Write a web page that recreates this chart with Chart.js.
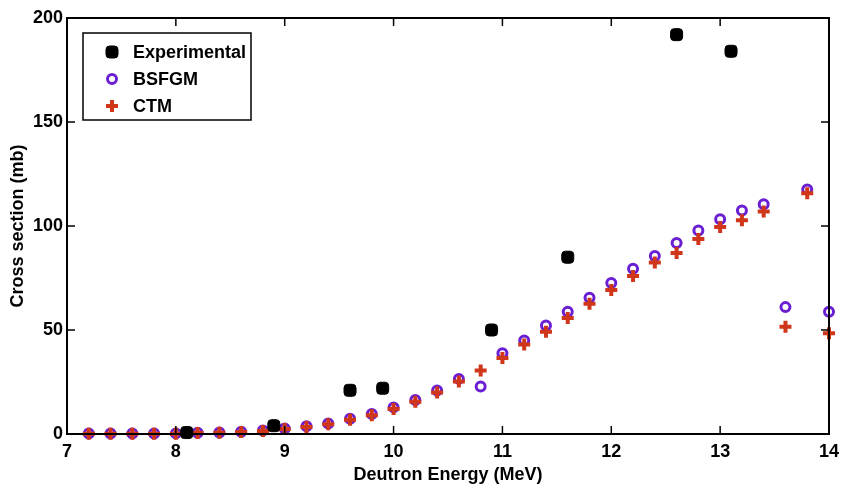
<!DOCTYPE html>
<html>
<head>
<meta charset="utf-8">
<script src="https://cdn.jsdelivr.net/npm/chart.js@4.4.1/dist/chart.umd.min.js"></script>
<style>
  html, body { margin: 0; padding: 0; background: #fff; }
  #wrap { width: 841px; height: 489px; }
</style>
</head>
<body>
<div id="wrap"><canvas id="Chart" width="841" height="489"></canvas></div>
<script>
// 重イオン反応の断面積データ
const energy = [7.2, 7.4, 7.6, 7.8, 8.0, 8.2, 8.4, 8.6, 8.8, 9.0, 9.2, 9.4, 9.6, 9.8, 10.0, 10.2, 10.4,
	10.6, 10.8, 11.0, 11.2, 11.4, 11.6, 11.8, 12.0, 12.2, 12.4, 12.6, 12.8, 13.0, 13.2, 13.4, 13.6, 13.8, 14.0];
const bsfgm = [0.2, 0.2, 0.2, 0.2, 0.3, 0.6, 0.7, 1.1, 1.7, 2.6, 3.7, 5.1, 7.3, 9.6, 12.8, 16.3, 20.9,
	26.5, 22.8, 38.8, 45.0, 52.2, 58.8, 65.5, 72.6, 79.4, 85.6, 91.8, 97.8, 103.2, 107.5, 110.5, 61.0, 117.5, 58.8];
const ctm = [0.1, 0.1, 0.1, 0.1, 0.1, 0.5, 0.6, 1.0, 1.5, 2.4, 3.4, 4.7, 6.8, 9.0, 12.0, 15.5, 20.0,
	25.2, 30.5, 36.5, 43.0, 49.2, 55.8, 62.6, 69.2, 76.0, 82.4, 87.0, 93.8, 99.5, 102.8, 107.0, 51.6, 115.8, 48.4];
const expEnergy = [8.1, 8.9, 9.6, 9.9, 10.9, 11.6, 12.6, 13.1];
const expValue = [0.7, 4.0, 21.0, 22.0, 50.0, 85.0, 192.0, 184.0];

const xTicks = [7, 8, 9, 10, 11, 12, 13, 14];
const yTicks = [0, 50, 100, 150, 200];

const FONT = "'Liberation Sans', Arial, sans-serif";

function pts(xs, ys) {
	return xs.map((x, i) => ({ x: x, y: ys[i] }));
}

// 枠線・内向きの目盛り・凡例を描くプラグイン
const framePlugin = {
	id: 'frame',
	afterDraw(chart) {
		const ctx = chart.ctx;
		const a = chart.chartArea;
		const xs = chart.scales.x, ys = chart.scales.y;
		ctx.save();
		ctx.strokeStyle = '#000';
		ctx.lineWidth = 2;
		ctx.strokeRect(a.left, a.top, a.right - a.left, a.bottom - a.top);
		ctx.lineWidth = 1.5;
		ctx.beginPath();
		xTicks.forEach(v => {
			const px = xs.getPixelForValue(v);
			ctx.moveTo(px, a.bottom); ctx.lineTo(px, a.bottom - 8);
			ctx.moveTo(px, a.top); ctx.lineTo(px, a.top + 8);
		});
		yTicks.forEach(v => {
			const py = ys.getPixelForValue(v);
			ctx.moveTo(a.left, py); ctx.lineTo(a.left + 8, py);
			ctx.moveTo(a.right, py); ctx.lineTo(a.right - 8, py);
		});
		ctx.stroke();

		// 凡例
		const lx = 83, ly = 33, lw = 168, lh = 87;
		ctx.fillStyle = '#fff';
		ctx.fillRect(lx, ly, lw, lh);
		ctx.lineWidth = 1.5;
		ctx.strokeRect(lx, ly, lw, lh);
		ctx.font = 'bold 18px ' + FONT;
		ctx.textBaseline = 'middle';
		ctx.textAlign = 'left';
		chart.data.datasets.forEach((ds, i) => {
			const cy = ly + 19 + i * 27;
			ctx.fillStyle = ds.backgroundColor;
			ctx.strokeStyle = ds.borderColor;
			ctx.lineWidth = ds.borderWidth;
			Chart.helpers.drawPoint(ctx, { pointStyle: ds.pointStyle, radius: ds.pointRadius, borderWidth: ds.borderWidth, rotation: 0 }, lx + 29, cy);
			ctx.fillStyle = '#000';
			ctx.fillText(ds.label, lx + 50, cy + 1);
		});
		ctx.restore();
	}
};

let lineCtx = document.getElementById('Chart');
let config = {
	type: 'scatter',
	data: {
		datasets: [{
			label: 'Experimental',
			data: pts(expEnergy, expValue),
			pointStyle: 'rectRounded',
			pointRadius: 7,
			borderWidth: 1,
			backgroundColor: '#000',
			borderColor: '#000',
			order: 0,
			clip: false
		}, {
			label: 'BSFGM',
			data: pts(energy, bsfgm),
			pointStyle: 'circle',
			pointRadius: 4.5,
			borderWidth: 3,
			backgroundColor: 'rgba(0,0,0,0)',
			borderColor: '#6a1fd2',
			order: 2,
			clip: false
		}, {
			label: 'CTM',
			data: pts(energy, ctm),
			pointStyle: 'cross',
			pointRadius: 6,
			borderWidth: 4,
			backgroundColor: '#d0361a',
			borderColor: '#d0361a',
			order: 1,
			clip: false
		}]
	},
	options: {
		responsive: false,
		animation: false,
		layout: { padding: { left: 0, right: 0, top: 18, bottom: 2 } },
		plugins: {
			legend: { display: false },
			tooltip: { enabled: false }
		},
		scales: {
			x: {
				type: 'linear',
				min: 7,
				max: 14,
				afterBuildTicks: s => { s.ticks = xTicks.map(v => ({ value: v })); },
				afterFit: s => { s.height = 53; s.paddingLeft = 0; s.paddingRight = 12; },
				grid: { display: false, drawTicks: false },
				border: { display: false },
				ticks: { color: '#000', font: { family: FONT, size: 18, weight: 'bold' }, padding: 7 },
				title: {
					display: true,
					text: 'Deutron Energy (MeV)',
					color: '#000',
					font: { family: FONT, size: 18, weight: 'bold' },
					padding: { top: 0, bottom: 1 }
				}
			},
			y: {
				type: 'linear',
				min: 0,
				max: 200,
				afterBuildTicks: s => { s.ticks = yTicks.map(v => ({ value: v })); },
				afterFit: s => { s.width = 67; },
				grid: { display: false, drawTicks: false },
				border: { display: false },
				ticks: { color: '#000', font: { family: FONT, size: 18, weight: 'bold' }, padding: 4 },
				title: {
					display: true,
					text: 'Cross section (mb)',
					color: '#000',
					font: { family: FONT, size: 18, weight: 'bold' },
					padding: { top: 7, bottom: 0 }
				}
			}
		}
	},
	plugins: [framePlugin]
};
let chart = new Chart(lineCtx, config);
</script>
</body>
</html>
